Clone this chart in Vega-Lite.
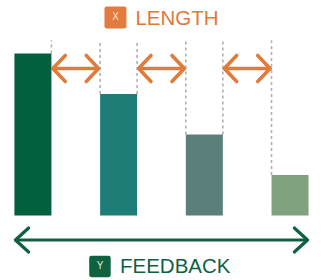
{
  "$schema": "https://vega.github.io/schema/vega-lite/v6.json",
  "width": 322,
  "height": 280,
  "autosize": {"type": "fit", "contains": "padding"},
  "padding": 0,
  "background": "white",
  "config": {"view": {"stroke": null}, "axis": {"disable": true}},
  "datasets": {
    "bars": [{"i": 1, "value": 4}, {"i": 2, "value": 3}, {"i": 3, "value": 2}, {"i": 4, "value": 1}],
    "gaps": [{"from": 1, "to": 2}, {"from": 2, "to": 3}, {"from": 3, "to": 4}],
    "labels": [{"tag": "X", "name": "LENGTH"}, {"tag": "Y", "name": "FEEDBACK"}]
  },
  "data": {"name": "bars"},
  "layer": [
    {
      "transform": [{"filter": "datum.i < 4"}],
      "mark": {"type": "rule", "stroke": "#B0B0B0", "strokeWidth": 1.6, "strokeDash": [3, 3], "xOffset": 18.5},
      "encoding": {
        "x": {"field": "i", "type": "quantitative", "scale": {"domain": [0.616, 4.373], "nice": false, "zero": false, "padding": 0}, "axis": null},
        "y": {"field": "value", "type": "quantitative", "scale": {"domain": [-1.593, 5.321], "nice": false, "zero": false, "padding": 0}, "axis": null},
        "y2": {"datum": 4.33}
      }
    },
    {
      "transform": [{"filter": "datum.i > 1"}],
      "mark": {"type": "rule", "stroke": "#B0B0B0", "strokeWidth": 1.6, "strokeDash": [3, 3], "xOffset": -18.5},
      "encoding": {
        "x": {"field": "i", "type": "quantitative"},
        "y": {"field": "value", "type": "quantitative"},
        "y2": {"datum": 4.33}
      }
    },
    {
      "mark": {"type": "bar", "width": 37},
      "encoding": {
        "x": {"field": "i", "type": "quantitative"},
        "y": {"field": "value", "type": "quantitative"},
        "y2": {"datum": 0},
        "color": {"field": "i", "type": "nominal", "scale": {"range": ["#03603E", "#1E7D77", "#5B7F7A", "#80A27F"]}, "legend": null}
      }
    },
    {
      "data": {"name": "gaps"},
      "mark": {"type": "rule", "stroke": "#E07B3C", "strokeWidth": 3.6, "strokeCap": "round", "xOffset": 20, "x2Offset": -20},
      "encoding": {
        "x": {"field": "from", "type": "quantitative"},
        "x2": {"field": "to"},
        "y": {"datum": 3.63}
      }
    },
    {
      "data": {"name": "gaps"},
      "mark": {"type": "point", "shape": "M0.95,-1L0,0L0.95,1", "size": 676, "filled": false, "opacity": 1, "stroke": "#E07B3C", "strokeWidth": 3.6, "strokeCap": "round", "strokeJoin": "round", "xOffset": 20},
      "encoding": {
        "x": {"field": "from", "type": "quantitative"},
        "y": {"datum": 3.63}
      }
    },
    {
      "data": {"name": "gaps"},
      "mark": {"type": "point", "shape": "M-0.95,-1L0,0L-0.95,1", "size": 676, "filled": false, "opacity": 1, "stroke": "#E07B3C", "strokeWidth": 3.6, "strokeCap": "round", "strokeJoin": "round", "xOffset": -20},
      "encoding": {
        "x": {"field": "to", "type": "quantitative"},
        "y": {"datum": 3.63}
      }
    },
    {
      "data": {"name": "labels"},
      "transform": [{"filter": "datum.tag == 'Y'"}],
      "mark": {"type": "rule", "stroke": "#0D6141", "strokeWidth": 3.2, "strokeCap": "round", "xOffset": -17, "x2Offset": 17},
      "encoding": {
        "x": {"datum": 1},
        "x2": {"datum": 4},
        "y": {"datum": -0.605}
      }
    },
    {
      "data": {"name": "labels"},
      "transform": [{"filter": "datum.tag == 'Y'"}],
      "mark": {"type": "point", "shape": "M1.1,-1L0,0L1.1,1", "size": 576, "filled": false, "opacity": 1, "stroke": "#0D6141", "strokeWidth": 3.2, "strokeCap": "round", "strokeJoin": "round", "xOffset": -17.5},
      "encoding": {
        "x": {"datum": 1},
        "y": {"datum": -0.605}
      }
    },
    {
      "data": {"name": "labels"},
      "transform": [{"filter": "datum.tag == 'Y'"}],
      "mark": {"type": "point", "shape": "M-1.1,-1L0,0L-1.1,1", "size": 576, "filled": false, "opacity": 1, "stroke": "#0D6141", "strokeWidth": 3.2, "strokeCap": "round", "strokeJoin": "round", "xOffset": 17.5},
      "encoding": {
        "x": {"datum": 4},
        "y": {"datum": -0.605}
      }
    },
    {
      "data": {"name": "labels"},
      "transform": [{"filter": "datum.tag == 'X'"}],
      "mark": {"type": "point", "shape": "M-0.8,-1L0.8,-1Q1,-1,1,-0.8L1,0.8Q1,1,0.8,1L-0.8,1Q-1,1,-1,0.8L-1,-0.8Q-1,-1,-0.8,-1Z", "size": 484, "filled": true, "opacity": 1, "color": "#E27B3D", "xOffset": -46},
      "encoding": {
        "x": {"datum": 2.5},
        "y": {"datum": 4.889}
      }
    },
    {
      "data": {"name": "labels"},
      "transform": [{"filter": "datum.tag == 'X'"}],
      "mark": {"type": "text", "font": "Liberation Sans", "fontSize": 10, "color": "#FBE3D3", "align": "center", "baseline": "middle", "dx": -46},
      "encoding": {
        "x": {"datum": 2.5},
        "y": {"datum": 4.889},
        "text": {"field": "tag"}
      }
    },
    {
      "data": {"name": "labels"},
      "transform": [{"filter": "datum.tag == 'X'"}],
      "mark": {"type": "text", "font": "Liberation Sans", "fontSize": 20.5, "color": "#E0783A", "align": "left", "baseline": "alphabetic", "dx": -26},
      "encoding": {
        "x": {"datum": 2.5},
        "y": {"datum": 4.704},
        "text": {"field": "name"}
      }
    },
    {
      "data": {"name": "labels"},
      "transform": [{"filter": "datum.tag == 'Y'"}],
      "mark": {"type": "point", "shape": "M-0.8,-1L0.8,-1Q1,-1,1,-0.8L1,0.8Q1,1,0.8,1L-0.8,1Q-1,1,-1,0.8L-1,-0.8Q-1,-1,-0.8,-1Z", "size": 462, "filled": true, "opacity": 1, "color": "#0E6240", "xOffset": -61.5},
      "encoding": {
        "x": {"datum": 2.5},
        "y": {"datum": -1.259}
      }
    },
    {
      "data": {"name": "labels"},
      "transform": [{"filter": "datum.tag == 'Y'"}],
      "mark": {"type": "text", "font": "Liberation Sans", "fontSize": 10, "color": "#DDEBE3", "align": "center", "baseline": "middle", "dx": -61.5},
      "encoding": {
        "x": {"datum": 2.5},
        "y": {"datum": -1.259},
        "text": {"field": "tag"}
      }
    },
    {
      "data": {"name": "labels"},
      "transform": [{"filter": "datum.tag == 'Y'"}],
      "mark": {"type": "text", "font": "Liberation Sans", "fontSize": 20.5, "color": "#0E6240", "align": "left", "baseline": "alphabetic", "dx": -41.5},
      "encoding": {
        "x": {"datum": 2.5},
        "y": {"datum": -1.42},
        "text": {"field": "name"}
      }
    }
  ]
}
